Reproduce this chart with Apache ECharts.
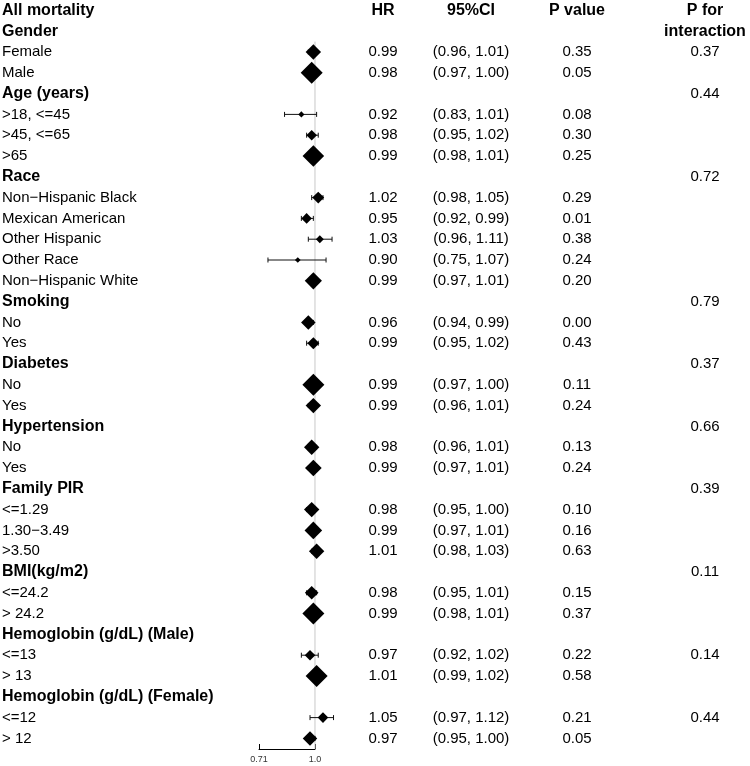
<!DOCTYPE html>
<html>
<head>
<meta charset="utf-8">
<script src="https://cdn.jsdelivr.net/npm/echarts@6/dist/echarts.min.js"></script>
<style>
  html, body { margin: 0; padding: 0; background: #fff; }
  #chart { width: 750px; height: 766px; }
</style>
</head>
<body>
<div id="chart"></div>
<script>
// ---- data (one entry per row, top to bottom) ----
const rowLabels = [
  "All mortality", "Gender", "Female", "Male",
  "Age (years)", ">18, <=45", ">45, <=65", ">65",
  "Race", "Non\u2212Hispanic Black", "Mexican American", "Other Hispanic", "Other Race", "Non\u2212Hispanic White",
  "Smoking", "No", "Yes",
  "Diabetes", "No", "Yes",
  "Hypertension", "No", "Yes",
  "Family PIR", "<=1.29", "1.30\u22123.49", ">3.50",
  "BMI(kg/m2)", "<=24.2", "> 24.2",
  "Hemoglobin (g/dL) (Male)", "<=13", "> 13",
  "Hemoglobin (g/dL) (Female)", "<=12", "> 12"
];
const hr = [
  null, null, 0.99, 0.98,
  null, 0.92, 0.98, 0.99,
  null, 1.02, 0.95, 1.03, 0.90, 0.99,
  null, 0.96, 0.99,
  null, 0.99, 0.99,
  null, 0.98, 0.99,
  null, 0.98, 0.99, 1.01,
  null, 0.98, 0.99,
  null, 0.97, 1.01,
  null, 1.05, 0.97
];
const ciLow = [
  null, null, 0.96, 0.97,
  null, 0.83, 0.95, 0.98,
  null, 0.98, 0.92, 0.96, 0.75, 0.97,
  null, 0.94, 0.95,
  null, 0.97, 0.96,
  null, 0.96, 0.97,
  null, 0.95, 0.97, 0.98,
  null, 0.95, 0.98,
  null, 0.92, 0.99,
  null, 0.97, 0.95
];
const ciHigh = [
  null, null, 1.01, 1.00,
  null, 1.01, 1.02, 1.01,
  null, 1.05, 0.99, 1.11, 1.07, 1.01,
  null, 0.99, 1.02,
  null, 1.00, 1.01,
  null, 1.01, 1.01,
  null, 1.00, 1.01, 1.03,
  null, 1.01, 1.01,
  null, 1.02, 1.02,
  null, 1.12, 1.00
];
const pValue = [
  "", "", "0.35", "0.05",
  "", "0.08", "0.30", "0.25",
  "", "0.29", "0.01", "0.38", "0.24", "0.20",
  "", "0.00", "0.43",
  "", "0.11", "0.24",
  "", "0.13", "0.24",
  "", "0.10", "0.16", "0.63",
  "", "0.15", "0.37",
  "", "0.22", "0.58",
  "", "0.21", "0.05"
];
const pInteraction = [
  "", "", "0.37", "",
  "0.44", "", "", "",
  "0.72", "", "", "", "", "",
  "0.79", "", "",
  "0.37", "", "",
  "0.66", "", "",
  "0.39", "", "", "",
  "0.11", "", "",
  "", "0.14", "",
  "", "0.44", ""
];
// relative weight of each estimate (drives diamond size)
const boxWeight = [
  0, 0, 0.70, 1.00,
  0, 0.28, 0.48, 0.98,
  0, 0.54, 0.48, 0.36, 0.26, 0.78,
  0, 0.66, 0.55,
  0, 1.00, 0.70,
  0, 0.70, 0.76,
  0, 0.70, 0.80, 0.70,
  0, 0.62, 1.00,
  0, 0.48, 1.00,
  0, 0.48, 0.66
];
const colHeaders = ["HR", "95%CI", "P value", "P for\ninteraction"];
const axisTicks = [0.71, 1.0];
const axisTickLabels = ["0.71", "1.0"];

// ---- layout ----
const FONT = "'Liberation Sans', Arial, Helvetica, sans-serif";
const ROW_H = 20.8;
const N = rowLabels.length;
const PLOT_H = N * ROW_H;
const COL = { label: 2, hr: 383, ci: 471, p: 577, pint: 705 };
const PX_PER_LN = 163.5;
const X_MIN = 0.71, X_MAX = 1.15;
const PLOT_LEFT = 259;
const PLOT_W = Math.log(X_MAX / X_MIN) * PX_PER_LN;

const rowsAxis = (gi) => ({
  type: "value", gridIndex: gi, min: -0.5, max: N - 0.5, inverse: true, show: false
});

// text column helper: items are [x, row, text, bold?]
function textSeries(items, align, bold, size) {
  return {
    type: "custom",
    xAxisIndex: 0, yAxisIndex: 0,
    data: items.map(d => [d[0], d[1]]),
    silent: true,
    renderItem: (params, api) => {
      const it = items[params.dataIndex];
      const p = api.coord([api.value(0), api.value(1)]);
      const b = it[3] != null ? it[3] : bold;
      return {
        type: "text",
        x: p[0], y: p[1],
        style: {
          text: it[2],
          fill: "#000",
          font: (b ? "bold " : "") + (b ? 16 : size) + "px " + FONT,
          textAlign: align,
          textVerticalAlign: "middle",
          lineHeight: ROW_H
        }
      };
    }
  };
}

const labelItems = rowLabels.map((t, i) => [COL.label, i, t, hr[i] == null]);
const hrItems = [], ciItems = [], pItems = [], pintItems = [];
hr.forEach((v, i) => {
  if (v == null) return;
  hrItems.push([COL.hr, i, v.toFixed(2)]);
  ciItems.push([COL.ci, i, "(" + ciLow[i].toFixed(2) + ", " + ciHigh[i].toFixed(2) + ")"]);
});
pValue.forEach((v, i) => { if (v) pItems.push([COL.p, i, v]); });
pInteraction.forEach((v, i) => { if (v) pintItems.push([COL.pint, i, v]); });
const headerItems = [
  [COL.hr, 0, colHeaders[0]],
  [COL.ci, 0, colHeaders[1]],
  [COL.p, 0, colHeaders[2]],
  [COL.pint, 0.5, colHeaders[3]]
];

const ciData = [], pointData = [];
hr.forEach((v, i) => {
  if (v == null) return;
  ciData.push([ciLow[i], ciHigh[i], i]);
  pointData.push([v, i, boxWeight[i]]);
});

const chart = echarts.init(document.getElementById("chart"), null, { renderer: "canvas" });
chart.setOption({
  animation: false,
  backgroundColor: "#fff",
  grid: [
    { left: 0, width: 750, top: 0, height: PLOT_H },
    { left: PLOT_LEFT, width: PLOT_W, top: 0, height: PLOT_H },
    { left: PLOT_LEFT, width: Math.log(1 / X_MIN) * PX_PER_LN, top: 748, height: 1 }
  ],
  xAxis: [
    { type: "value", gridIndex: 0, min: 0, max: 750, show: false },
    { type: "log", gridIndex: 1, min: X_MIN, max: X_MAX, show: false },
    {
      type: "value", gridIndex: 2, min: axisTicks[0], max: axisTicks[1],
      axisLine: { show: true, lineStyle: { color: "#000", width: 1 } },
      axisTick: { show: true, inside: true, length: 5, customValues: axisTicks, lineStyle: { color: "#000" } },
      axisLabel: {
        customValues: axisTicks, margin: 6, fontSize: 9, color: "#333", fontFamily: FONT,
        formatter: (v) => axisTickLabels[axisTicks.findIndex(t => Math.abs(t - v) < 1e-6)]
      },
      splitLine: { show: false }
    }
  ],
  yAxis: [rowsAxis(0), rowsAxis(1), { type: "value", gridIndex: 2, show: false }],
  series: [
    textSeries(labelItems, "left", false, 15),
    textSeries(headerItems, "center", true, 16),
    textSeries(hrItems, "center", false, 15),
    textSeries(ciItems, "center", false, 15),
    textSeries(pItems, "center", false, 15),
    textSeries(pintItems, "center", false, 15),
    {
      type: "line", xAxisIndex: 1, yAxisIndex: 1, z: 1,
      data: [[1, 1.5], [1, N - 0.5]], symbol: "none",
      lineStyle: { color: "#c8c8c8", width: 1 }, silent: true
    },
    {
      type: "custom", xAxisIndex: 1, yAxisIndex: 1, z: 2,
      data: ciData, silent: true,
      encode: { x: [0, 1], y: 2 },
      renderItem: (params, api) => {
        const lo = api.coord([api.value(0), api.value(2)]);
        const hi = api.coord([api.value(1), api.value(2)]);
        const c = 2.5;
        const st = { stroke: "#111", lineWidth: 1 };
        return {
          type: "group",
          children: [
            { type: "line", shape: { x1: lo[0], y1: lo[1], x2: hi[0], y2: hi[1] }, style: st },
            { type: "line", shape: { x1: lo[0], y1: lo[1] - c, x2: lo[0], y2: lo[1] + c }, style: st },
            { type: "line", shape: { x1: hi[0], y1: hi[1] - c, x2: hi[0], y2: hi[1] + c }, style: st }
          ]
        };
      }
    },
    {
      type: "scatter", xAxisIndex: 1, yAxisIndex: 1, z: 3,
      data: pointData, symbol: "diamond",
      symbolSize: (v) => 22 * v[2],
      itemStyle: { color: "#000", opacity: 1 }, silent: true
    }
  ]
});
</script>
</body>
</html>
